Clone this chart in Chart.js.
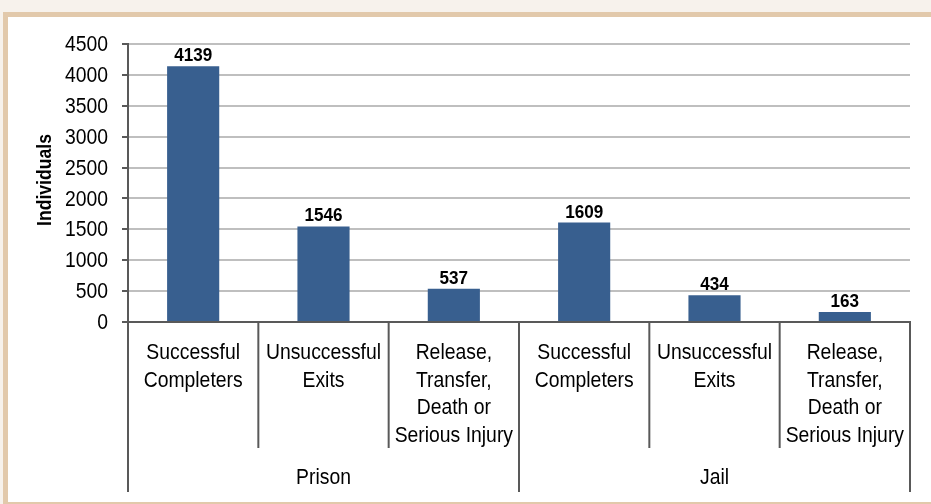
<!DOCTYPE html>
<html>
<head>
<meta charset="utf-8">
<script src="https://cdn.jsdelivr.net/npm/chart.js@4"></script>
<style>
    html, body { margin: 0; padding: 0; }
    body { width: 931px; height: 504px; background: #f7f2ec; position: relative; overflow: hidden; }
    #frame {
        position: absolute; left: 3px; top: 12px; width: 960px; height: 485px;
        background: #ffffff;
        border-left: 5px solid #e2c9ab; border-top: 5px solid #e2c9ab; border-bottom: 5px solid #e2c9ab;
    }
    #wrap { position: absolute; left: 0; top: 0; width: 931px; height: 504px; }
</style>
</head>
<body>
<div id="frame"></div>
<div id="wrap"><canvas id="exitChart" width="931" height="504"></canvas></div>
<script>
    'use strict'

    // data
    const categories = ['prison-success', 'prison-unsuccess', 'prison-release', 'jail-success', 'jail-unsuccess', 'jail-release'];
    const categoryLines = [
        ['Successful', 'Completers'],
        ['Unsuccessful', 'Exits'],
        ['Release,', 'Transfer,', 'Death or', 'Serious Injury'],
        ['Successful', 'Completers'],
        ['Unsuccessful', 'Exits'],
        ['Release,', 'Transfer,', 'Death or', 'Serious Injury']
    ];
    const groups = ['Prison', 'Jail'];
    const groupSize = 3;
    const individuals = [4139, 1546, 537, 1609, 434, 163];
    const yTicks = [0, 500, 1000, 1500, 2000, 2500, 3000, 3500, 4000, 4500];
    const yTitle = 'Individuals';

    const axisColor = '#595959';
    const font = '"Liberation Sans", Arial, sans-serif';
    const squish = 0.88; // the source text is a bit condensed

    function squishText(ctx, text, x, y, sx) {
        ctx.save();
        ctx.translate(x, y);
        ctx.scale(sx, 1);
        ctx.fillText(text, 0, 0);
        ctx.restore();
    }

    // value labels above the bars
    const valueLabels = {
        id: 'valueLabels',
        afterDatasetsDraw(chart) {
            const ctx = chart.ctx;
            const meta = chart.getDatasetMeta(0);
            ctx.save();
            ctx.font = 'bold 19px ' + font;
            ctx.fillStyle = '#000000';
            ctx.textAlign = 'center';
            ctx.textBaseline = 'alphabetic';
            meta.data.forEach(function (bar, i) {
                squishText(ctx, String(individuals[i]), bar.x, bar.y - 5, 0.9);
            });
            ctx.restore();
        }
    };

    // y tick labels and title
    const yLabels = {
        id: 'yLabels',
        afterDraw(chart) {
            const ctx = chart.ctx;
            const y = chart.scales.y;
            const area = chart.chartArea;
            ctx.save();
            ctx.fillStyle = '#000000';
            ctx.font = '22px ' + font;
            ctx.textAlign = 'right';
            ctx.textBaseline = 'middle';
            yTicks.forEach(function (v) {
                squishText(ctx, String(v), area.left - 20, y.getPixelForValue(v) + 1, squish);
            });

            ctx.font = 'bold 20px ' + font;
            ctx.textAlign = 'center';
            ctx.translate(45, (area.top + area.bottom) / 2 - 3);
            ctx.rotate(-Math.PI / 2);
            ctx.scale(squish, 1);
            ctx.fillText(yTitle, 0, 0);
            ctx.restore();
        }
    };

    // category labels, separators and group labels under the x axis
    const groupedAxis = {
        id: 'groupedAxis',
        afterDraw(chart) {
            const ctx = chart.ctx;
            const x = chart.scales.x;
            const area = chart.chartArea;
            const base = area.bottom;
            const n = categories.length;

            ctx.save();
            ctx.strokeStyle = axisColor;
            ctx.lineWidth = 2;
            for (let i = 0; i <= n; i++) {
                let px;
                if (i === 0) px = area.left;
                else if (i === n) px = area.right;
                else px = (x.getPixelForValue(i - 1) + x.getPixelForValue(i)) / 2;
                const isGroup = i % groupSize === 0;
                ctx.beginPath();
                ctx.moveTo(px, base);
                ctx.lineTo(px, base + (isGroup ? 170 : 126));
                ctx.stroke();
            }

            ctx.font = '22px ' + font;
            ctx.fillStyle = '#000000';
            ctx.textAlign = 'center';
            ctx.textBaseline = 'middle';
            categoryLines.forEach(function (lines, i) {
                const cx = x.getPixelForValue(i);
                lines.forEach(function (line, k) {
                    squishText(ctx, line, cx, base + 31 + k * 27.5, squish);
                });
            });

            groups.forEach(function (g, gi) {
                const first = gi * groupSize;
                const last = first + groupSize - 1;
                const left = first === 0 ? area.left : (x.getPixelForValue(first - 1) + x.getPixelForValue(first)) / 2;
                const right = last === n - 1 ? area.right : (x.getPixelForValue(last) + x.getPixelForValue(last + 1)) / 2;
                squishText(ctx, g, (left + right) / 2, base + 156, squish);
            });
            ctx.restore();
        }
    };

    const ctx = document.getElementById('exitChart').getContext('2d');
    new Chart(ctx, {
        type: 'bar',
        data: {
            labels: categories,
            datasets: [{
                label: 'Individuals',
                data: individuals,
                backgroundColor: '#385f8f',
                borderWidth: 0,
                barPercentage: 0.4,
                categoryPercentage: 1.0
            }]
        },
        options: {
            responsive: false,
            animation: false,
            devicePixelRatio: 1,
            layout: { padding: { left: 34, top: 44, right: 21, bottom: 0 } },
            plugins: {
                legend: { display: false },
                tooltip: { enabled: false },
                title: { display: false }
            },
            scales: {
                x: {
                    offset: true,
                    grid: { display: false, drawTicks: false },
                    border: { display: true, color: axisColor, width: 2 },
                    ticks: { display: false },
                    afterFit: function (scale) { scale.height = 182; }
                },
                y: {
                    min: 0,
                    max: 4500,
                    afterBuildTicks: function (scale) {
                        scale.ticks = yTicks.map(function (v) { return { value: v }; });
                    },
                    grid: { color: '#bfbfbf', lineWidth: 2, tickColor: axisColor, tickLength: 6 },
                    border: { display: true, color: axisColor, width: 2 },
                    ticks: { display: false },
                    title: { display: false },
                    afterFit: function (scale) { scale.width = 94; }
                }
            }
        },
        plugins: [valueLabels, yLabels, groupedAxis]
    });
</script>
</body>
</html>
